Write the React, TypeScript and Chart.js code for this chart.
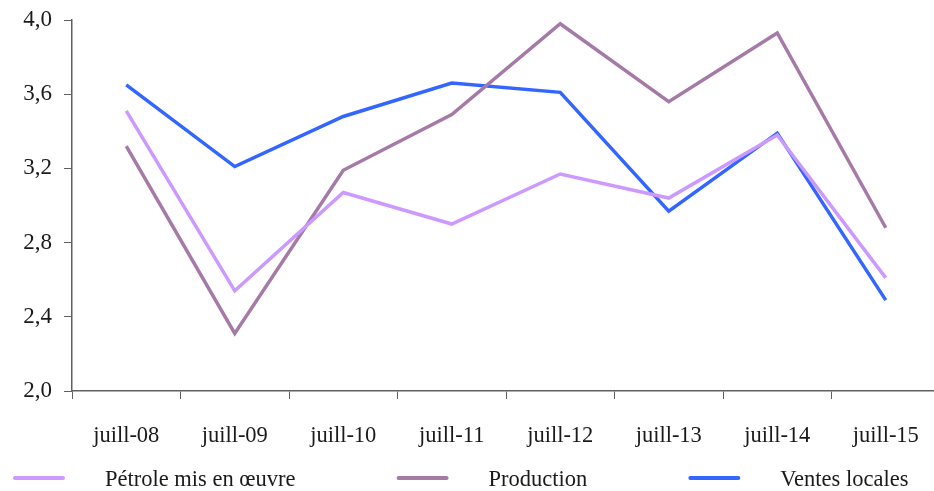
import React, { useEffect, useRef } from "react";
import { Chart, registerables } from "chart.js";

Chart.register(...registerables);

const categories = ["juill-08", "juill-09", "juill-10", "juill-11", "juill-12", "juill-13", "juill-14", "juill-15"];
const petrole = [3.51, 2.54, 3.07, 2.9, 3.17, 3.04, 3.38, 2.61];
const production = [3.32, 2.31, 3.19, 3.49, 3.98, 3.56, 3.93, 2.88];
const ventes = [3.65, 3.21, 3.48, 3.66, 3.61, 2.97, 3.39, 2.49];
const yTicks = [2.0, 2.4, 2.8, 3.2, 3.6, 4.0];
const yTickLabels = ["2,0", "2,4", "2,8", "3,2", "3,6", "4,0"];

const FONT = "'Liberation Serif', 'Times New Roman', serif";
const TEXT = "#1a1a1a";
const AXIS = "#606060";

const legendPlugin = {
  id: "bottomLegend",
  afterDraw(chart: any) {
    const ctx = chart.ctx;
    const y = chart.chartArea.bottom + 87;
    ctx.save();
    ctx.font = `22.5px ${FONT}`;
    ctx.textBaseline = "middle";
    ctx.fillStyle = TEXT;
    let x = 13;
    chart.data.datasets.forEach((ds: any) => {
      ctx.strokeStyle = ds.borderColor;
      ctx.lineWidth = 4;
      ctx.lineCap = "round";
      ctx.beginPath();
      ctx.moveTo(x + 2, y);
      ctx.lineTo(x + 50, y);
      ctx.stroke();
      const tx = x + 92;
      ctx.fillText(ds.label, tx, y + 2);
      x = tx + ctx.measureText(ds.label).width + 101;
    });
    ctx.restore();
  },
};

export default function App() {
  const ref = useRef<HTMLCanvasElement | null>(null);
  useEffect(() => {
    if (!ref.current) return;
    const chart = new Chart(ref.current, {
      type: "line",
      data: {
        labels: categories,
        datasets: [
          { label: "Pétrole mis en œuvre", data: petrole, borderColor: "#CC99FF", backgroundColor: "#CC99FF" },
          { label: "Production", data: production, borderColor: "#A67AA7", backgroundColor: "#A67AA7" },
          { label: "Ventes locales", data: ventes, borderColor: "#3366FF", backgroundColor: "#3366FF" },
        ].map((d) => ({ ...d, borderWidth: 3.5, pointRadius: 0, tension: 0, fill: false })),
      },
      plugins: [legendPlugin],
      options: {
        responsive: false,
        animation: false,
        layout: { padding: { top: 20, right: 0, bottom: 0, left: 0 } },
        plugins: { legend: { display: false }, tooltip: { enabled: false } },
        scales: {
          x: {
            type: "category",
            offset: true,
            grid: { offset: true, drawOnChartArea: false, drawTicks: true, tickLength: 8, color: AXIS, lineWidth: 1 },
            border: { display: true, color: AXIS, width: 1.5 },
            ticks: { color: TEXT, font: { family: FONT, size: 22.5 }, padding: 24, maxRotation: 0, autoSkip: false },
            afterFit: (s: any) => {
              s.height = 100;
              s.paddingLeft = 0;
              s.paddingRight = 0;
            },
          },
          y: {
            min: 2,
            max: 4,
            grid: { drawOnChartArea: false, drawTicks: true, tickLength: 8, color: AXIS, lineWidth: 1 },
            border: { display: true, color: AXIS, width: 1.5 },
            afterBuildTicks: (s: any) => {
              s.ticks = yTicks.map((v) => ({ value: v }));
            },
            ticks: {
              color: TEXT,
              font: { family: FONT, size: 23 },
              padding: 12,
              callback: (v: any) => {
                const i = yTicks.findIndex((t) => Math.abs(t - Number(v)) < 1e-6);
                return i >= 0 ? yTickLabels[i] : "";
              },
            },
            afterFit: (s: any) => {
              s.width = 72;
              s.paddingTop = 0;
              s.paddingBottom = 0;
            },
          },
        },
      },
    });
    return () => chart.destroy();
  }, []);
  return (
    <div style={{ position: "fixed", left: 0, top: 0, width: 934, height: 491, overflow: "hidden", background: "#fff" }}>
      <canvas ref={ref} width={940} height={491} style={{ display: "block" }} />
    </div>
  );
}
